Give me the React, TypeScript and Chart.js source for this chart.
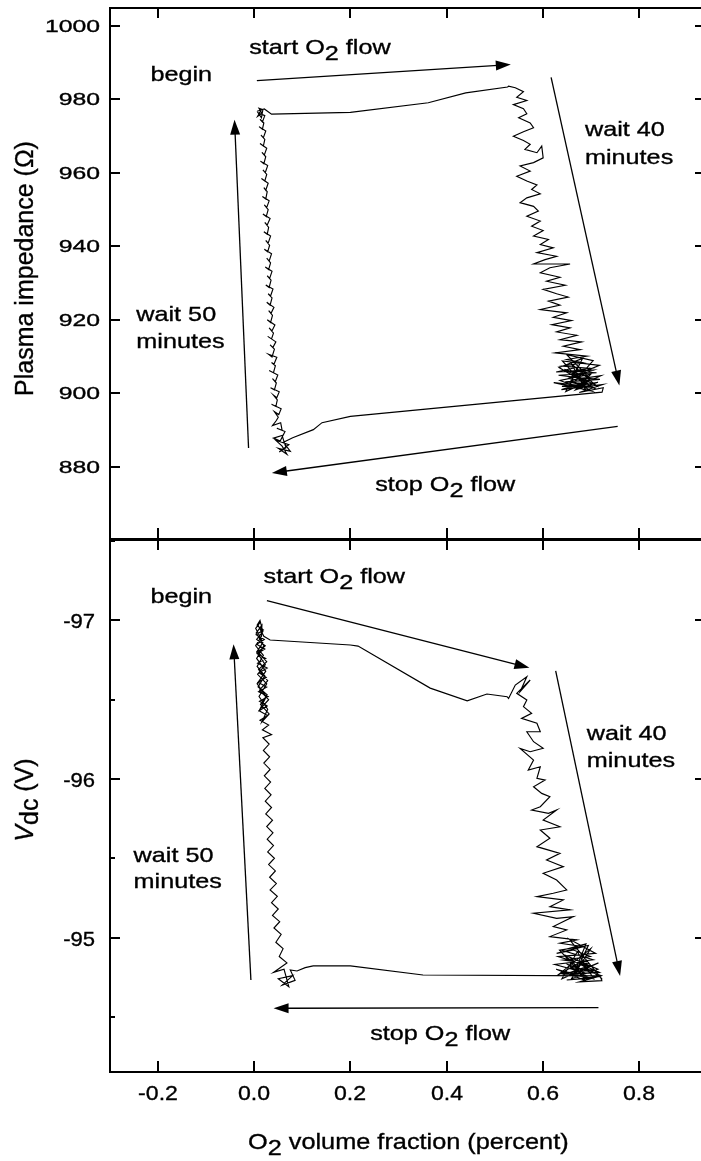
import React, { useEffect, useRef } from "react";
import { Chart, registerables } from "chart.js";

Chart.register(...registerables);

// ================= DATA =================
// x: O2 volume fraction (percent); y: plasma impedance (ohm) — top panel
const impFlowOn: [number, number][] = [
  [0.006, 976.8], [0.021, 977.4], [0.036, 976.0], [0.2, 976.5], [0.362, 979.1], [0.44, 981.8], [0.527, 983.4],
];
const impWait40: [number, number][] = [
  [0.529, 983.6], [0.543, 983.2], [0.56, 982.1], [0.546, 980.6], [0.567, 979.7], [0.539, 978.6], [0.56, 977.5],
  [0.567, 976.1], [0.55, 975.0], [0.574, 973.6], [0.581, 972.3], [0.56, 971.2], [0.539, 970.0], [0.56, 968.8],
  [0.574, 967.8], [0.563, 966.4], [0.588, 965.5], [0.598, 967.3], [0.601, 964.1], [0.581, 962.8], [0.553, 961.9],
  [0.574, 960.5], [0.546, 959.1], [0.567, 957.8], [0.588, 956.7], [0.577, 955.5], [0.595, 954.3], [0.567, 953.2],
  [0.553, 951.9], [0.581, 950.9], [0.591, 949.6], [0.567, 948.2], [0.595, 946.9], [0.577, 945.5], [0.601, 944.3],
  [0.581, 942.8], [0.612, 941.9], [0.595, 940.5], [0.622, 939.6], [0.588, 938.3], [0.629, 937.3], [0.605, 936.4],
  [0.581, 935.2], [0.657, 935.2], [0.615, 934.2], [0.595, 932.8], [0.636, 931.6], [0.608, 930.5], [0.647, 929.4],
  [0.601, 928.3], [0.629, 927.1], [0.653, 926.2], [0.612, 925.1], [0.636, 924.0], [0.595, 922.8], [0.65, 921.9],
  [0.622, 920.7], [0.66, 919.8], [0.619, 918.7], [0.657, 917.8], [0.629, 916.7], [0.671, 915.8], [0.636, 914.6],
  [0.681, 914.0], [0.643, 912.8], [0.678, 911.9], [0.626, 911.0], [0.692, 910.1], [0.65, 909.2], [0.685, 908.3],
  [0.64, 907.4], [0.699, 906.8], [0.657, 906.0], [0.712, 905.6], [0.633, 904.9], [0.678, 904.2], [0.719, 903.8],
  [0.647, 903.1], [0.692, 902.6], [0.64, 901.9], [0.699, 901.7], [0.664, 902.8], [0.705, 908.9], [0.65, 910.5],
  [0.695, 904.5], [0.645, 906.5], [0.71, 902.2], [0.66, 908.0], [0.69, 900.8], [0.636, 903.5], [0.7, 905.2],
  [0.668, 900.9], [0.715, 903.0], [0.655, 901.6], [0.672, 907.1], [0.628, 905.8], [0.706, 906.3], [0.652, 904.0],
  [0.718, 907.6], [0.641, 908.8], [0.688, 902.0], [0.623, 902.9], [0.702, 900.6], [0.659, 903.6], [0.721, 904.8],
  [0.648, 900.5], [0.683, 909.5], [0.634, 907.0], [0.711, 901.1], [0.662, 905.4], [0.694, 903.1], [0.639, 901.0],
  [0.725, 902.4], [0.676, 900.2], [0.726, 901.5],
];
const impFlowOff: [number, number][] = [
  [0.7235, 900.3], [0.2, 893.7], [0.141, 892.0], [0.123, 890.1], [0.08, 887.9], [0.06, 886.6],
];
const impWait50: [number, number][] = [
  [0.062, 886.5], [0.075, 884.2], [0.05, 885.0], [0.068, 883.4], [0.058, 885.6], [0.045, 887.2], [0.072, 886.0],
  [0.052, 884.0], [0.066, 885.2], [0.058, 888.5], [0.04, 887.8], [0.054, 887.0], [0.064, 889.6], [0.047, 890.5],
  [0.058, 889.9], [0.055, 892.0], [0.038, 891.2], [0.046, 892.6], [0.05, 893.5], [0.042, 895.0], [0.051, 894.2],
  [0.056, 895.8], [0.036, 897.0], [0.045, 896.4], [0.048, 898.2], [0.04, 899.5], [0.047, 898.8], [0.052, 900.4],
  [0.034, 901.5], [0.042, 900.9], [0.046, 902.8], [0.038, 904.0], [0.044, 903.2], [0.049, 905.0], [0.031, 906.2],
  [0.04, 905.6], [0.044, 907.5], [0.036, 908.4], [0.041, 907.9], [0.047, 909.8], [0.03, 910.6], [0.037, 909.9],
  [0.042, 912.0], [0.033, 913.2], [0.039, 912.5], [0.045, 914.0], [0.028, 915.5], [0.036, 914.8], [0.04, 916.4],
  [0.031, 917.8], [0.037, 917.0], [0.043, 918.6], [0.027, 920.0], [0.034, 919.3], [0.038, 921.2], [0.03, 922.5],
  [0.035, 921.8], [0.041, 923.4], [0.026, 924.8], [0.033, 924.0], [0.037, 926.0], [0.029, 927.1], [0.034, 926.5],
  [0.039, 928.4], [0.024, 929.5], [0.031, 928.8], [0.035, 930.8], [0.027, 932.0], [0.032, 931.3], [0.037, 933.2],
  [0.023, 934.4], [0.03, 933.7], [0.034, 935.5], [0.026, 936.8], [0.031, 936.0], [0.036, 938.0], [0.021, 939.2],
  [0.028, 938.5], [0.032, 940.3], [0.024, 941.6], [0.029, 940.9], [0.034, 942.8], [0.02, 944.0], [0.027, 943.3],
  [0.03, 945.2], [0.022, 946.5], [0.027, 945.8], [0.033, 947.6], [0.018, 948.8], [0.025, 948.1], [0.029, 950.0],
  [0.021, 951.3], [0.026, 950.6], [0.031, 952.4], [0.017, 953.6], [0.024, 952.9], [0.027, 954.9], [0.02, 956.0],
  [0.024, 955.3], [0.029, 957.2], [0.015, 958.5], [0.022, 957.8], [0.026, 959.6], [0.018, 960.8], [0.023, 960.1],
  [0.028, 962.0], [0.013, 963.2], [0.02, 962.5], [0.024, 964.4], [0.016, 965.6], [0.021, 964.9], [0.026, 966.7],
  [0.012, 968.0], [0.019, 967.3], [0.022, 969.1], [0.014, 970.3], [0.019, 969.6], [0.024, 971.4], [0.01, 972.6],
  [0.017, 971.9], [0.02, 973.6], [0.012, 974.6], [0.017, 973.9], [0.022, 975.6], [0.008, 976.4], [0.015, 975.0],
  [0.018, 977.2], [0.01, 977.6], [0.016, 976.2], [0.007, 975.4], [0.013, 976.8], [0.015, 977.0],
];

// x: O2 volume fraction (percent); y: Vdc (V) — bottom panel
const vdcFlowOn: [number, number][] = [
  [0.008, -96.97], [0.02, -96.9], [0.033, -96.876], [0.2, -96.845], [0.216, -96.838], [0.366, -96.573],
  [0.443, -96.493], [0.484, -96.536], [0.526, -96.519],
];
const vdcWait40: [number, number][] = [
  [0.529, -96.508], [0.543, -96.592], [0.567, -96.645], [0.553, -96.55], [0.574, -96.624], [0.546, -96.54],
  [0.567, -96.498], [0.56, -96.456], [0.577, -96.414], [0.556, -96.382], [0.588, -96.351], [0.595, -96.298],
  [0.567, -96.298], [0.581, -96.235], [0.601, -96.193], [0.574, -96.172], [0.553, -96.193], [0.581, -96.119],
  [0.57, -96.056], [0.595, -96.077], [0.588, -96.004], [0.605, -95.993], [0.581, -95.951], [0.598, -95.909],
  [0.615, -95.888], [0.595, -95.825], [0.577, -95.804], [0.612, -95.783], [0.629, -95.804], [0.601, -95.741],
  [0.636, -95.699], [0.595, -95.678], [0.615, -95.626], [0.588, -95.573], [0.636, -95.531], [0.608, -95.489],
  [0.643, -95.447], [0.601, -95.405], [0.629, -95.363], [0.65, -95.3], [0.622, -95.279], [0.588, -95.258],
  [0.643, -95.237], [0.615, -95.195], [0.657, -95.174], [0.581, -95.153], [0.629, -95.121], [0.664, -95.132],
  [0.622, -95.069], [0.65, -95.048], [0.615, -95.006], [0.671, -94.985], [0.636, -94.964], [0.685, -94.943],
  [0.629, -94.9], [0.664, -94.921], [0.699, -94.88], [0.643, -94.858], [0.692, -94.837], [0.657, -94.806],
  [0.705, -94.795], [0.636, -94.774], [0.678, -94.764], [0.712, -94.753], [0.65, -94.732], [0.699, -94.743],
  [0.664, -94.764], [0.69, -94.96], [0.64, -94.92], [0.705, -94.86], [0.625, -94.83], [0.685, -94.78],
  [0.645, -94.89], [0.715, -94.8], [0.66, -94.74], [0.7, -94.93], [0.63, -94.76], [0.675, -94.84],
  [0.72, -94.75], [0.655, -94.99], [0.71, -94.9], [0.632, -94.88], [0.695, -94.82], [0.648, -94.77],
  [0.718, -94.78], [0.66, -94.86], [0.688, -94.73], [0.628, -94.8], [0.706, -94.74], [0.672, -94.91],
  [0.64, -94.74], [0.716, -94.84], [0.668, -94.78], [0.695, -94.95], [0.635, -94.92], [0.684, -94.76],
  [0.652, -94.83], [0.722, -94.76], [0.676, -94.72], [0.723, -94.728],
];
const vdcFlowOff: [number, number][] = [
  [0.7193, -94.758], [0.351, -94.764], [0.2, -94.821], [0.1227, -94.821], [0.106, -94.81], [0.089, -94.789],
  [0.075, -94.795],
];
const vdcWait50: [number, number][] = [
  [0.085, -94.73], [0.058, -94.7], [0.08, -94.76], [0.05, -94.74], [0.072, -94.69], [0.062, -94.8], [0.04, -94.78],
  [0.068, -94.84], [0.052, -94.88], [0.06, -94.93], [0.045, -94.97], [0.056, -95.02], [0.041, -95.06],
  [0.053, -95.1], [0.038, -95.14], [0.05, -95.18], [0.036, -95.22], [0.048, -95.26], [0.033, -95.3],
  [0.046, -95.34], [0.032, -95.38], [0.044, -95.42], [0.03, -95.46], [0.042, -95.5], [0.028, -95.54],
  [0.04, -95.58], [0.027, -95.62], [0.039, -95.66], [0.026, -95.7], [0.038, -95.74], [0.024, -95.78],
  [0.036, -95.82], [0.023, -95.86], [0.035, -95.9], [0.022, -95.94], [0.034, -95.98], [0.021, -96.02],
  [0.033, -96.06], [0.02, -96.1], [0.032, -96.14], [0.019, -96.18], [0.031, -96.22], [0.018, -96.26],
  [0.036, -96.28], [0.017, -96.31], [0.03, -96.34], [0.012, -96.37], [0.028, -96.4], [0.01, -96.43],
  [0.027, -96.46], [0.011, -96.49], [0.029, -96.52], [0.009, -96.55], [0.026, -96.58], [0.008, -96.61],
  [0.025, -96.64], [0.01, -96.67], [0.027, -96.7], [0.007, -96.73], [0.024, -96.76], [0.006, -96.79],
  [0.022, -96.82], [0.005, -96.85], [0.021, -96.88], [0.004, -96.91], [0.019, -96.94], [0.006, -96.97],
  [0.012, -97.0], [0.018, -96.93], [0.005, -96.88], [0.023, -96.84], [0.008, -96.8], [0.026, -96.74],
  [0.009, -96.69], [0.028, -96.62], [0.011, -96.56], [0.03, -96.5], [0.012, -96.44], [0.025, -96.52],
  [0.006, -96.6], [0.024, -96.68], [0.005, -96.76], [0.02, -96.84], [0.004, -96.92], [0.016, -96.97],
  [0.015, -96.9], [0.003, -96.84], [0.019, -96.78], [0.006, -96.71], [0.022, -96.65], [0.008, -96.58],
  [0.027, -96.53], [0.013, -96.47], [0.031, -96.41], [0.016, -96.36], [0.028, -96.44], [0.01, -96.52],
  [0.026, -96.6], [0.007, -96.66], [0.023, -96.72], [0.005, -96.8], [0.018, -96.86], [0.003, -96.95],
  [0.013, -96.99], [0.008, -96.97],
];

// axes
const xMin = -0.3;
const xMax = 0.9376;
const xStep = 0.2;
const impMin = 860.33;
const impMax = 1004.9;
const impStep = 20;
const vdcMin = -97.507;
const vdcMax = -94.152;
const vdcStep = 0.5;

// annotation texts (anchored in data coordinates)
type Part = { t: string; sub?: boolean; it?: boolean };
type Note = { parts: Part[]; x: number; y: number };
const O2 = (a: string, b: string): Part[] => [{ t: a + "O" }, { t: "2", sub: true }, { t: b }];

const impNotes: Note[] = [
  { parts: [{ t: "begin" }], x: -0.216, y: 984.95 },
  { parts: O2("start ", " flow"), x: -0.0104, y: 992.3 },
  { parts: [{ t: "wait 40" }], x: 0.688, y: 969.98 },
  { parts: [{ t: "minutes" }], x: 0.688, y: 962.5 },
  { parts: [{ t: "wait 50" }], x: -0.2453, y: 919.61 },
  { parts: [{ t: "minutes" }], x: -0.2453, y: 912.37 },
  { parts: O2("stop ", " flow"), x: 0.2516, y: 873.5 },
];
const impArrows: number[][] = [
  [0.0055, 985.14, 0.5337, 989.5],
  [0.6175, 986.0, 0.7595, 902.1],
  [0.756, 891.0, 0.0367, 878.3],
  [-0.0118, 885.1, -0.041, 974.5],
];
const vdcNotes: Note[] = [
  { parts: [{ t: "begin" }], x: -0.216, y: -97.1075 },
  { parts: O2("start ", " flow"), x: 0.0194, y: -97.2336 },
  { parts: [{ t: "wait 40" }], x: 0.6917, y: -96.246 },
  { parts: [{ t: "minutes" }], x: 0.6917, y: -96.077 },
  { parts: [{ t: "wait 50" }], x: -0.2509, y: -95.478 },
  { parts: [{ t: "minutes" }], x: -0.2509, y: -95.31 },
  { parts: O2("stop ", " flow"), x: 0.2412, y: -94.354 },
];
const vdcArrows: number[][] = [
  [0.0264, -97.124, 0.5724, -96.701],
  [0.627, -96.681, 0.761, -94.758],
  [0.716, -94.558, 0.0402, -94.554],
  [-0.0069, -94.732, -0.043, -96.85],
];

// ================= DRAWING =================
const FONT = '"Liberation Sans", Arial, Helvetica, sans-serif';

function drawParts(
  ctx: CanvasRenderingContext2D,
  parts: Part[],
  x: number,
  y: number,
  size: number,
  sx: number,
  align: "left" | "center" | "right",
  subShift = 6
) {
  ctx.save();
  const fontFor = (p: Part) => `${p.it ? "italic " : ""}${size}px ${FONT}`;
  const widths = parts.map((p) => {
    ctx.font = fontFor(p);
    return ctx.measureText(p.t).width;
  });
  const total = widths.reduce((a, b) => a + b, 0) * sx;
  const start = align === "left" ? x : align === "center" ? x - total / 2 : x - total;
  ctx.translate(start, y);
  ctx.scale(sx, 1);
  ctx.textAlign = "left";
  ctx.textBaseline = "alphabetic";
  ctx.fillStyle = "#000";
  ctx.strokeStyle = "#000";
  ctx.lineWidth = 0.35;
  let cx = 0;
  parts.forEach((p, i) => {
    ctx.font = fontFor(p);
    ctx.fillText(p.t, cx, p.sub ? subShift : 0);
    ctx.strokeText(p.t, cx, p.sub ? subShift : 0);
    cx += widths[i];
  });
  ctx.restore();
}

function arrow(ctx: CanvasRenderingContext2D, x0: number, y0: number, x1: number, y1: number) {
  const dx = x1 - x0;
  const dy = y1 - y0;
  const len = Math.hypot(dx, dy);
  const ux = dx / len;
  const uy = dy / len;
  const hl = 15;
  const hw = 5;
  const bx = x1 - ux * hl;
  const by = y1 - uy * hl;
  ctx.beginPath();
  ctx.moveTo(x0, y0);
  ctx.lineTo(bx + ux * 2, by + uy * 2);
  ctx.lineWidth = 1.3;
  ctx.stroke();
  ctx.beginPath();
  ctx.moveTo(x1, y1);
  ctx.lineTo(bx - uy * hw, by + ux * hw);
  ctx.lineTo(bx + uy * hw, by - ux * hw);
  ctx.closePath();
  ctx.fill();
}

type PanelCfg = {
  name: string;
  isBottom: boolean;
  notes: Note[];
  arrows: number[][];
  yLabelRight: number;
  yLabelSize: number;
  yLabelSx: number;
  yTitle: Part[];
  yTitleX: number;
  yTitleY: number;
  yTitleSize: number;
};

function isMajor(v: number) {
  return Math.abs(v - Math.round(v)) < 1e-6;
}

function makeOverlay(cfg: PanelCfg) {
  return {
    id: "overlay_" + cfg.name,
    afterDraw(chart: any) {
      const { ctx, chartArea: a, scales } = chart;
      const xs = scales.x;
      const ys = scales.y;
      ctx.save();
      ctx.strokeStyle = "#000";
      ctx.fillStyle = "#000";
      const line = (x0: number, y0: number, x1: number, y1: number, w: number) => {
        ctx.beginPath();
        ctx.moveTo(x0, y0);
        ctx.lineTo(x1, y1);
        ctx.lineWidth = w;
        ctx.stroke();
      };
      // frame
      ctx.lineWidth = 2;
      ctx.strokeRect(a.left, a.top, a.right - a.left, a.bottom - a.top);
      // x ticks
      xs.ticks.forEach((t: any) => {
        const px = Math.round(xs.getPixelForValue(t.value));
        line(px, a.top, px, a.top + 10, 2);
        line(px, a.bottom, px, a.bottom - 11, 2);
        if (cfg.isBottom) {
          const v = Math.abs(t.value) < 1e-9 ? 0 : t.value;
          drawParts(ctx, [{ t: v.toFixed(1) }], px, a.bottom + 27.5, 21, 1.1, "center");
        }
      });
      // y ticks
      ys.ticks.forEach((t: any) => {
        const py = Math.round(ys.getPixelForValue(t.value));
        const major = cfg.isBottom ? isMajor(t.value) : true;
        line(a.left, py, a.left + (major ? 10 : 5), py, 2);
        if (major) {
          line(a.right, py, a.right - 10, py, 2);
          const txt = String(Math.round(t.value));
          drawParts(ctx, [{ t: txt }], cfg.yLabelRight, py + cfg.yLabelSize * 0.358, cfg.yLabelSize, cfg.yLabelSx, "right");
        }
      });
      // y title (rotated)
      ctx.save();
      ctx.translate(cfg.yTitleX, cfg.yTitleY);
      ctx.rotate(-Math.PI / 2);
      drawParts(ctx, cfg.yTitle, 0, 0, cfg.yTitleSize, 1, "center", 5);
      ctx.restore();
      // x title
      if (cfg.isBottom) {
        drawParts(ctx, O2("", " volume fraction (percent)"), 248, a.bottom + 77, 22, 1.15, "left", 6);
      }
      // annotations
      cfg.notes.forEach((n) => {
        drawParts(ctx, n.parts, xs.getPixelForValue(n.x), ys.getPixelForValue(n.y), 21, 1.2, "left", 6);
      });
      cfg.arrows.forEach((r) => {
        arrow(ctx, xs.getPixelForValue(r[0]), ys.getPixelForValue(r[1]), xs.getPixelForValue(r[2]), ys.getPixelForValue(r[3]));
      });
      ctx.restore();
    },
  };
}

function buildChart(
  canvas: HTMLCanvasElement,
  segments: [number, number][][],
  yMin: number,
  yMax: number,
  yStep: number,
  reverse: boolean,
  padding: { top: number; bottom: number; left: number; right: number },
  cfg: PanelCfg
) {
  const pts = segments.flat().map(([x, y]) => ({ x, y }));
  return new Chart(canvas, {
    type: "scatter",
    data: {
      datasets: [
        {
          data: pts,
          showLine: true,
          borderColor: "#000",
          backgroundColor: "#000",
          borderWidth: 1.15,
          pointRadius: 0,
          pointHoverRadius: 0,
          tension: 0,
          fill: false,
        } as any,
      ],
    },
    options: {
      animation: false,
      responsive: false,
      events: [],
      layout: { padding },
      plugins: { legend: { display: false }, tooltip: { enabled: false }, title: { display: false } },
      scales: {
        x: {
          type: "linear",
          min: xMin,
          max: xMax,
          ticks: { display: false, stepSize: xStep, includeBounds: false },
          grid: { display: false },
          border: { display: false },
          afterFit: (s: any) => {
            s.height = 0;
          },
        },
        y: {
          type: "linear",
          min: yMin,
          max: yMax,
          reverse,
          ticks: { display: false, stepSize: yStep, includeBounds: false },
          grid: { display: false },
          border: { display: false },
          afterFit: (s: any) => {
            s.width = 110;
          },
        },
      },
    } as any,
    plugins: [makeOverlay(cfg)],
  });
}

export default function App() {
  const topRef = useRef<HTMLCanvasElement>(null);
  const botRef = useRef<HTMLCanvasElement>(null);

  useEffect(() => {
    const top = buildChart(
      topRef.current!,
      [impFlowOn, impWait40, impFlowOff, impWait50],
      impMin,
      impMax,
      impStep,
      false,
      { top: 8, bottom: 21, left: 0, right: 5 },
      {
        name: "imp",
        isBottom: false,
        notes: impNotes,
        arrows: impArrows,
        yLabelRight: 100,
        yLabelSize: 17.2,
        yLabelSx: 1.44,
        yTitle: [{ t: "Plasma impedance (Ω)" }],
        yTitleX: 33,
        yTitleY: 268.5,
        yTitleSize: 25,
      }
    );
    const bot = buildChart(
      botRef.current!,
      [vdcFlowOn, vdcWait40, vdcFlowOff, vdcWait50],
      vdcMin,
      vdcMax,
      vdcStep,
      true,
      { top: 20, bottom: 89, left: 0, right: 5 },
      {
        name: "vdc",
        isBottom: true,
        notes: vdcNotes,
        arrows: vdcArrows,
        yLabelRight: 95,
        yLabelSize: 21,
        yLabelSx: 1.05,
        yTitle: [{ t: "V", it: true }, { t: "dc", sub: true }, { t: " (V)" }],
        yTitleX: 33,
        yTitleY: 280,
        yTitleSize: 25,
      }
    );
    return () => {
      top.destroy();
      bot.destroy();
    };
  }, []);

  return (
    <div
      style={{
        position: "absolute",
        left: 0,
        top: 0,
        width: 701,
        height: 1161,
        overflow: "hidden",
        background: "#fff",
      }}
    >
      <canvas
        ref={topRef}
        width={710}
        height={560}
        style={{ position: "absolute", left: 0, top: 0, width: 710, height: 560 }}
      />
      <canvas
        ref={botRef}
        width={710}
        height={641}
        style={{ position: "absolute", left: 0, top: 520, width: 710, height: 641 }}
      />
    </div>
  );
}
